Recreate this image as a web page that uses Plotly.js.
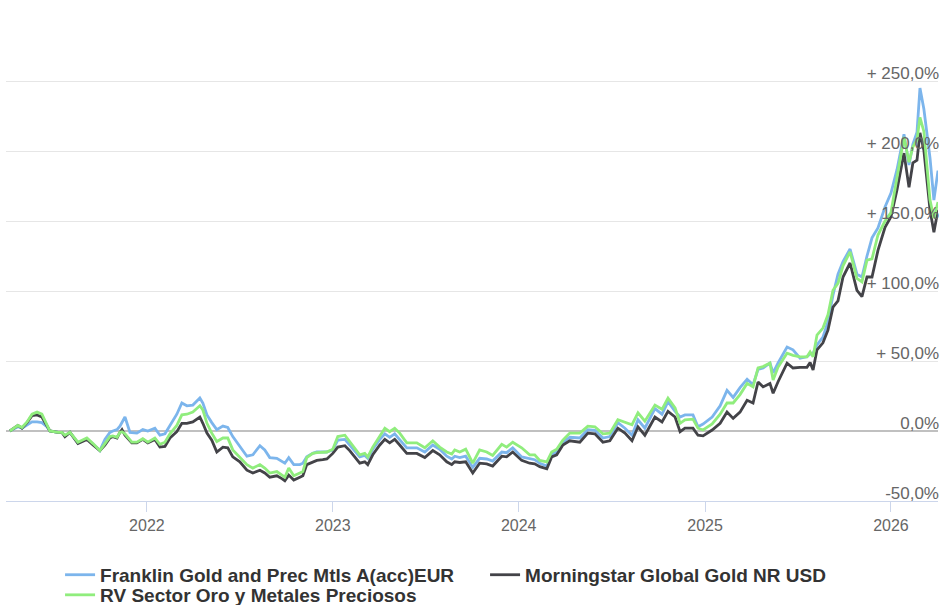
<!DOCTYPE html>
<html>
<head>
<meta charset="utf-8">
<script src="https://cdn.plot.ly/plotly-3.0.1.min.js"></script>
<style>
html,body{margin:0;padding:0;background:#fff;}
#chart{width:940px;height:605px;}
</style>
</head>
<body>
<div id="chart"></div>
<script>
// Time as decimal years
const timeYears = [
 2021.263,2021.306,2021.328,2021.355,2021.382,2021.409,2021.435,2021.462,2021.478,2021.522,
 2021.543,2021.559,2021.586,2021.629,2021.677,2021.710,2021.747,2021.774,2021.801,2021.817,
 2021.839,2021.855,2021.866,2021.882,2021.909,2021.919,2021.946,2021.978,2022.005,2022.043,
 2022.070,2022.097,2022.124,2022.161,2022.188,2022.215,2022.247,2022.285,2022.301,2022.323,
 2022.349,2022.376,2022.409,2022.435,2022.462,2022.500,2022.538,2022.570,2022.608,2022.634,
 2022.661,2022.699,2022.726,2022.742,2022.763,2022.790,2022.823,2022.839,2022.860,2022.892,
 2022.914,2022.946,2022.968,2023.000,2023.027,2023.065,2023.091,2023.145,2023.172,2023.188,
 2023.215,2023.253,2023.280,2023.306,2023.333,2023.360,2023.398,2023.452,2023.495,2023.538,
 2023.575,2023.613,2023.640,2023.656,2023.683,2023.715,2023.753,2023.790,2023.828,2023.860,
 2023.909,2023.935,2023.968,2024.016,2024.059,2024.086,2024.113,2024.151,2024.177,2024.204,
 2024.237,2024.274,2024.328,2024.371,2024.409,2024.452,2024.489,2024.532,2024.570,2024.608,
 2024.640,2024.677,2024.731,2024.769,2024.801,2024.839,2024.866,2024.892,2024.935,2024.962,
 2024.989,2025.038,2025.081,2025.118,2025.151,2025.188,2025.226,2025.258,2025.285,2025.312,
 2025.349,2025.366,2025.392,2025.441,2025.473,2025.511,2025.548,2025.565,2025.581,2025.602,
 2025.634,2025.661,2025.688,2025.715,2025.742,2025.780,2025.817,2025.844,2025.871,2025.898,
 2025.930,2025.968,2026.000,2026.032,2026.070,2026.097,2026.118,2026.140,2026.156,2026.177,
 2026.210,2026.231,2026.253
];

// Franklin Gold and Prec Mtls A(acc)EUR (% return)
const franklinValues = [
 0,3,2,4,6.5,6.5,6,3,0,-1,
 -1,-3.5,-1,-8.5,-5.5,-9.5,-14,-6,-1,0,
 1,3.5,6,10,-1,-1,-1.5,1,0,2,
 -3,-2,4,12,20,18,18.5,23.5,20,11.5,
 6,1,3.5,2.5,-4,-11,-18,-17,-10.5,-13.5,
 -19,-19.5,-22,-23,-19,-24,-24,-23,-18.5,-16,
 -15,-15,-15,-13.5,-6.5,-6,-10,-18.5,-17.5,-19.5,
 -13,-6,-2,-4.5,-2,-6,-12,-12,-15,-10,
 -13,-18,-20,-18,-19,-18,-26,-19.5,-20,-21.5,
 -15,-15.5,-12,-18.5,-20,-20.5,-23,-25,-16.5,-15,
 -8,-4.5,-5,1,0.5,-5,-4,6,2,-3,
 8,2,16,12,21,14,10,11.5,11.5,3,
 5,10,18,29,24,31,37,33,44,45,
 48.5,41.5,48.5,60,58,52,53,55,55.5,61.5,
 67,78,97,112,121,130,112,110,125,138,
 145,160,170,186.5,212,190,205,213.5,245,230,
 195,165,186
];

// Morningstar Global Gold NR USD (% return)
const morningstarValues = [
 0,4,2,6,11,11.5,10,4,0,-1,
 -1,-4,-1,-9,-6,-10,-14,-10,-5,-4,
 -5,-1,1,-3,-7,-8.5,-8.5,-6,-8.5,-6,
 -11.5,-11,-5,-0.5,5.5,5.5,6.5,10,5.5,-1.5,
 -6.5,-15,-11.5,-12,-18.5,-22,-28,-30,-28,-30,
 -33,-32,-34,-35.5,-31.5,-35,-33,-32,-24,-22,
 -21,-20.5,-20,-16,-11.5,-10.5,-14,-23,-22,-24,
 -17,-10,-6,-8.5,-6,-10,-16,-16,-19,-14,
 -17,-22,-24,-22,-22.5,-22,-30,-23,-23.5,-25,
 -18,-18.5,-15,-21,-23,-23.5,-25.5,-27,-18.5,-17,
 -10,-7,-8,-1.5,-2,-8,-7,2,-1.5,-7,
 3,-3,10,6.5,14,10,-0.5,2,2,-3,
 -3.5,0.7,5.5,13.5,9,13.5,22,20,35,31.5,
 34,27,35,48.5,45,45.5,45.5,49,43.5,58,
 63,72,88.5,93,110,120,100.5,96,110,110,
 129,145.5,153,172,198.5,174,191.5,193.5,213,200.5,
 158,142,158
];

// RV Sector Oro y Metales Preciosos (% return)
const rvSectorValues = [
 0,4,2.5,6.5,12,13.5,12,5,0,-1,
 -1,-3,-1,-8,-5,-9,-14,-9,-4,-3.5,
 -4.5,-1,-0.5,-2,-7,-8,-8,-5.5,-8,-5,
 -9.5,-8,-2,4,11.5,12,13.5,18,15,5.5,
 -1.5,-7.5,-5,-5,-13.5,-18.5,-24,-26.5,-24,-26.5,
 -30,-29,-31.5,-33,-26.5,-32,-30,-29,-19,-16,
 -15.5,-15,-15,-13,-4,-3,-7.5,-17,-16,-18.5,
 -11.5,-4,2,-0.5,2,-1.5,-8.5,-8.5,-12,-7,
 -11.5,-15,-16.5,-13.5,-15,-13,-23,-13.5,-15,-17.5,
 -9.5,-11.5,-8,-12,-17,-17,-21,-22,-15,-13,
 -6.5,-1.5,-1.5,3.5,3,-2,-1.5,8,6.5,4.5,
 13,7,18.5,15.5,23.5,16.5,5.5,8,8.5,2,
 0.7,5,12,20,20,26,34,31.5,45,46,
 48.5,36.5,45.5,55.5,54,53,53,56.5,53,68.5,
 73.5,83,100.5,105.5,118,128,109,106.5,122,123,
 140,150,156,180,210,192,203,208,224,214,
 165,152,163.5
];

const seriesNames = [
 "Franklin Gold and Prec Mtls A(acc)EUR",
 "Morningstar Global Gold NR USD",
 "RV Sector Oro y Metales Preciosos"
];
const seriesColors = ["#7cb5ec", "#434348", "#90ed7d"];
const seriesLegends = ["legend", "legend", "legend2"];

const yTickVals = [-50, 0, 50, 100, 150, 200, 250, 300];
const yTickText = ["-50,0%", "0,0%", "+ 50,0%", "+ 100,0%", "+ 150,0%", "+ 200,0%", "+ 250,0%", ""];
const xRangeYears = [2021.242, 2026.253];

function yearToDate(t) {
  const y = Math.floor(t);
  const s = Date.UTC(y, 0, 1), e = Date.UTC(y + 1, 0, 1);
  return new Date(s + (t - y) * (e - s)).toISOString().slice(0, 19).replace('T', ' ');
}

const xDates = timeYears.map(yearToDate);
const allValues = [franklinValues, morningstarValues, rvSectorValues];

const traces = allValues.map((vals, i) => ({
  type: 'scatter',
  mode: 'lines',
  name: seriesNames[i],
  legend: seriesLegends[i],
  x: xDates,
  y: vals,
  line: {color: seriesColors[i], width: 2.8},
  hoverinfo: 'skip'
}));

const legendFont = {size: 19, color: '#333333', weight: 'bold', family: 'Liberation Sans, Arial, sans-serif'};

const layout = {
  width: 940,
  height: 605,
  margin: {l: 6, r: 2, t: 11, b: 104, autoexpand: false},
  paper_bgcolor: '#ffffff',
  plot_bgcolor: '#ffffff',
  font: {family: 'Liberation Sans, Arial, sans-serif', color: '#666666'},
  showlegend: true,
  legend: {
    orientation: 'h',
    x: 0.058, xanchor: 'left',
    y: -0.112, yanchor: 'top',
    bgcolor: 'rgba(0,0,0,0)',
    font: legendFont,
    entrywidth: 380,
    itemwidth: 30
  },
  legend2: {
    orientation: 'h',
    x: 0.058, xanchor: 'left',
    y: -0.153, yanchor: 'top',
    bgcolor: 'rgba(0,0,0,0)',
    font: legendFont,
    itemwidth: 30
  },
  xaxis: {
    type: 'date',
    range: xRangeYears.map(yearToDate),
    tickmode: 'linear',
    tick0: '2022-01-01',
    dtick: 'M12',
    tickformat: '%Y',
    showgrid: false,
    zeroline: false,
    showline: true,
    linecolor: '#ccd6eb',
    linewidth: 1,
    ticks: 'outside',
    ticklen: 10,
    tickcolor: '#ccd6eb',
    tickfont: {size: 16, color: '#666666'},
    fixedrange: true
  },
  yaxis: {
    side: 'left',
    anchor: 'free',
    position: 1,
    range: [-50, 300],
    tickvals: yTickVals,
    ticktext: yTickText,
    ticklabelposition: 'outside top',
    ticklabelshift: 4,
    ticklabelstandoff: -1,
    ticklabeloverflow: 'allow',
    tickfont: {size: 17, color: '#666666'},
    showgrid: true,
    gridcolor: '#e6e6e6',
    gridwidth: 1,
    zeroline: true,
    zerolinecolor: '#c0c0c0',
    zerolinewidth: 2,
    showline: false,
    ticks: '',
    fixedrange: true
  }
};

Plotly.newPlot('chart', traces, layout, {displayModeBar: false, staticPlot: true});
</script>
</body>
</html>
